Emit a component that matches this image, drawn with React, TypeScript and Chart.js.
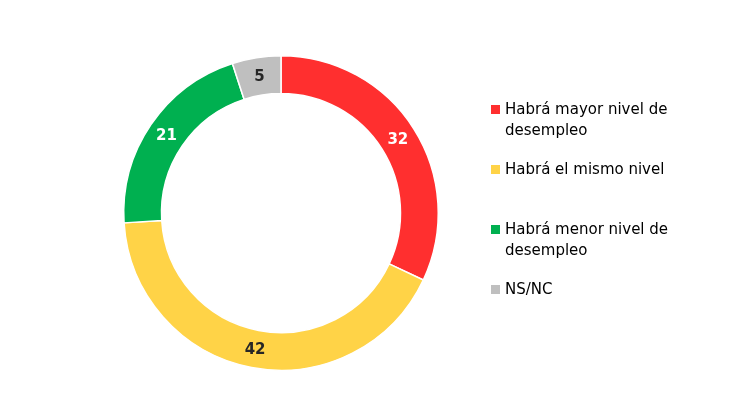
import React, { useEffect, useRef } from "react";
import { Chart, registerables } from "chart.js";

Chart.register(...registerables);

const categories = [
  "Habrá mayor nivel de desempleo",
  "Habrá el mismo nivel",
  "Habrá menor nivel de desempleo",
  "NS/NC",
];
const values = [32, 42, 21, 5];
const colors = ["#FF2F2F", "#FFD347", "#00B050", "#BFBFBF"];
const labelColors = ["#FFFFFF", "#262626", "#FFFFFF", "#262626"];

const FONT = '"DejaVu Sans", Verdana, sans-serif';

const valueLabels = {
  id: "valueLabels",
  afterDatasetsDraw(chart: any) {
    const ctx = chart.ctx;
    const meta = chart.getDatasetMeta(0);
    ctx.save();
    ctx.font = `bold 15px ${FONT}`;
    ctx.textAlign = "center";
    ctx.textBaseline = "middle";
    meta.data.forEach((arc: any, i: number) => {
      const p = arc.getCenterPoint();
      ctx.fillStyle = labelColors[i];
      ctx.fillText(String(values[i]), p.x, p.y + 1);
    });
    ctx.restore();
  },
};

export default function App() {
  const ref = useRef<HTMLCanvasElement | null>(null);
  useEffect(() => {
    document.body.style.margin = "0";
    const chart = new Chart(ref.current as HTMLCanvasElement, {
      type: "doughnut",
      data: {
        labels: categories,
        datasets: [
          {
            data: values,
            backgroundColor: colors,
            borderColor: "#FFFFFF",
            borderWidth: 1.5,
          },
        ],
      },
      options: {
        animation: false,
        responsive: false,
        cutout: "76%",
        layout: { padding: { left: 123, top: 55, right: 294, bottom: 26 } },
        plugins: {
          legend: { display: false },
          tooltip: { enabled: false },
        },
      },
      plugins: [valueLabels],
    });
    return () => chart.destroy();
  }, []);

  return (
    <div style={{ position: "relative", width: 733, height: 397, background: "#fff" }}>
      <canvas ref={ref} width={733} height={397} style={{ position: "absolute", left: 0, top: 0 }} />
      <div
        style={{
          position: "absolute",
          left: 491,
          top: 99,
          width: 200,
          fontFamily: FONT,
          fontSize: 15,
          lineHeight: "21px",
          color: "#000",
        }}
      >
        {categories.map((c, i) => (
          <div key={c} style={{ height: 60, display: "flex", alignItems: "flex-start" }}>
            <div
              style={{
                width: 9,
                height: 9,
                background: colors[i],
                marginTop: 6,
                marginRight: 5,
                flex: "0 0 auto",
              }}
            />
            <div style={{ width: 180 }}>{c}</div>
          </div>
        ))}
      </div>
    </div>
  );
}
